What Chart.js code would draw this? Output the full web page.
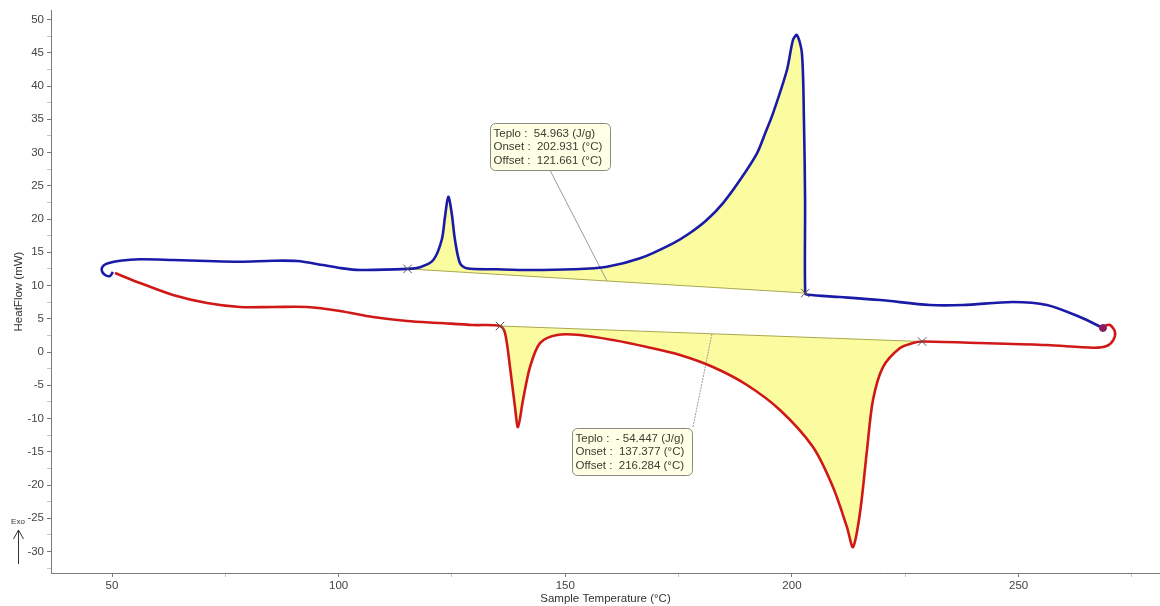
<!DOCTYPE html>
<html><head><meta charset="utf-8">
<script src="https://cdn.jsdelivr.net/npm/chart.js@4.4.1/dist/chart.umd.min.js"></script>
<style>html,body{margin:0;padding:0;background:#fff;overflow:hidden}#wrap{width:1160px;height:606px;position:relative;overflow:hidden}</style>
</head><body><div id="wrap"><canvas id="c" width="1167" height="606"></canvas></div>
<script>
// Blue curve (cooling), sample temperature (°C) and heat flow (mW)
const blueTemp = [50.2, 49.56, 48.46, 47.73, 48.01, 49.12, 51.76, 56.18, 63.46, 70.96, 78.24, 85.52, 90.81, 96.55, 100.3, 104.71, 115.2,
  117.95, 120.88, 122.73, 123.46, 124.19, 124.94, 125.67, 126.78, 128.25, 134.87, 142.21, 151.77, 159.2, 166.48, 173.76, 177.5, 181.2, 184.8, 188.54,
  192.29, 194.1, 195.82, 198.9, 200.23, 201.1, 202.2, 202.65, 202.9, 202.93, 203.5, 210.6, 219.42, 230.45, 237.73, 248.76, 256.26, 263.54, 268.62];
const blueHeat = [12.03, 11.43, 11.58, 12.26, 12.93, 13.34, 13.73, 13.94, 13.83, 13.68, 13.58, 13.73, 13.68, 13.08, 12.63, 12.33, 12.5,
  12.74, 13.83, 16.84, 20.35, 23.35, 20.86, 16.84, 13.34, 12.59, 12.44, 12.33, 12.44, 12.83, 14.09, 16.35, 17.9, 19.85, 22.4, 25.86,
  29.88, 32.9, 35.89, 42.41, 46.92, 47.67, 44.96, 34.89, 22.86, 8.87, 8.6, 8.27, 7.82, 7.07, 7.07, 7.52, 7.07, 5.26, 3.61];
// Red curve (heating)
const redTemp = [50.66, 56.18, 63.46, 70.96, 78.24, 85.52, 93.02, 100.3, 107.58, 115.08, 122.36, 129.64, 135.6,
  136.7, 137.8, 138.9, 139.57, 140.67, 142.21, 144.42, 148.17, 153.24, 160.52, 168.02, 175.3, 182.58, 190.08, 197.36, 204.64,
  209.05, 212.14, 213.47, 215.01, 216.56, 217.88, 220.09, 223.84, 226.71, 228.7, 241.48, 256.26, 266.41, 269.43, 270.89, 271.26, 270.16, 268.84];
const redHeat = [11.88, 10.38, 8.57, 7.37, 6.77, 6.77, 6.77, 6.17, 5.26, 4.66, 4.36, 4.06, 3.91,
  2.86, -2.26, -8.27, -11.28, -7.22, -2.26, 1.35, 2.56, 2.56, 1.8, 0.75, -0.45, -2.26, -4.96, -8.72, -14.29,
  -20.3, -26.32, -29.32, -24.21, -14.74, -7.22, -2.26, 0.6, 1.35, 1.58, 1.35, 1.05, 0.65, 0.9, 1.8, 3.05, 4.06, 3.91];
// Peak integration limits (baseline end markers)
const blueBaseTemp = [115.2, 202.93];
const blueBaseHeat = [12.5, 8.87];
const redBaseTemp = [135.6, 228.7];
const redBaseHeat = [3.91, 1.58];
// Leader lines from result boxes to baselines
const blueLeaderTemp = [146.6, 159.2];
const blueLeaderHeat = [27.37, 10.69];
const redLeaderTemp = [178.17, 182.36];
const redLeaderHeat = [-11.28, 2.74];
// Result boxes (anchor = top-left corner)
const boxAnchorTemp = [133.39, 151.48];
const boxAnchorHeat = [34.44, -11.43];
const boxLines = [
  ["Teplo :  54.963 (J/g)", "Onset :  202.931 (°C)", "Offset :  121.661 (°C)"],
  ["Teplo :  - 54.447 (J/g)", "Onset :  137.377 (°C)", "Offset :  216.284 (°C)"]
];
// Tick labels
const xTickLabels = [50, 100, 150, 200, 250];
const yTickLabels = [-30, -25, -20, -15, -10, -5, 0, 5, 10, 15, 20, 25, 30, 35, 40, 45, 50];

const pts = (xs, ys) => xs.map((x, i) => ({x: x, y: ys[i]}));
function slice(xs, ys, a, b) {
  const i0 = xs.indexOf(a), i1 = xs.indexOf(b);
  return pts(xs.slice(i0, i1 + 1), ys.slice(i0, i1 + 1));
}

const FONT = "'Liberation Sans', Arial, sans-serif";

const boxPlugin = {
  id: 'boxes',
  afterDatasetsDraw(chart) {
    const ctx = chart.ctx, xs = chart.scales.x, ys = chart.scales.y;
    ctx.save();
    for (let k = 0; k < boxLines.length; k++) {
      const px = Math.round(xs.getPixelForValue(boxAnchorTemp[k])) + 0.5;
      const py = Math.round(ys.getPixelForValue(boxAnchorHeat[k])) + 0.5;
      const w = 120, h = 47, r = 5;
      ctx.beginPath();
      ctx.roundRect(px, py, w, h, r);
      ctx.fillStyle = '#ffffe6';
      ctx.fill();
      ctx.strokeStyle = '#8a8a80';
      ctx.lineWidth = 1;
      ctx.stroke();
      ctx.fillStyle = '#3b3b30';
      ctx.font = '11.5px ' + FONT;
      ctx.textBaseline = 'middle';
      ctx.textAlign = 'left';
      boxLines[k].forEach((t, j) => ctx.fillText(t, px + 3, py + 10 + j * 13.6));
    }
    // Exo arrow
    ctx.strokeStyle = '#333';
    ctx.fillStyle = '#333';
    ctx.lineWidth = 1;
    ctx.font = '8px ' + FONT;
    ctx.textAlign = 'center';
    ctx.fillText('Exo', 18, 522);
    ctx.beginPath();
    ctx.moveTo(18.5, 564); ctx.lineTo(18.5, 530);
    ctx.moveTo(13.5, 539); ctx.lineTo(18.5, 530); ctx.lineTo(23.5, 539);
    ctx.stroke();
    ctx.restore();
  }
};

const lineBase = {showLine: true, pointRadius: 0, fill: false, tension: 0.3};

new Chart(document.getElementById('c'), {
  type: 'scatter',
  data: {
    datasets: [
      Object.assign({}, lineBase, {label: 'blue', data: pts(blueTemp, blueHeat), borderColor: '#1a1aa8', borderWidth: 2.6, order: 0}),
      Object.assign({}, lineBase, {label: 'red', data: pts(redTemp, redHeat), borderColor: '#d01818', borderWidth: 2.6, order: 0}),
      Object.assign({}, lineBase, {label: 'blueFill', data: slice(blueTemp, blueHeat, blueBaseTemp[0], blueBaseTemp[1]), borderWidth: 0, borderColor: 'rgba(0,0,0,0)', backgroundColor: '#fbfba0', fill: 'shape', order: 5}),
      Object.assign({}, lineBase, {label: 'redFill', data: slice(redTemp, redHeat, redBaseTemp[0], redBaseTemp[1]), borderWidth: 0, borderColor: 'rgba(0,0,0,0)', backgroundColor: '#fbfba0', fill: 'shape', order: 5}),
      Object.assign({}, lineBase, {label: 'blueBase', data: pts(blueBaseTemp, blueBaseHeat), borderColor: '#a8a850', borderWidth: 1, tension: 0, order: 3}),
      Object.assign({}, lineBase, {label: 'redBase', data: pts(redBaseTemp, redBaseHeat), borderColor: '#a8a850', borderWidth: 1, tension: 0, order: 3}),
      Object.assign({}, lineBase, {label: 'blueLeader', data: pts(blueLeaderTemp, blueLeaderHeat), borderColor: '#9a9a9a', borderWidth: 1, tension: 0, order: 2}),
      Object.assign({}, lineBase, {label: 'redLeader', data: pts(redLeaderTemp, redLeaderHeat), borderColor: '#9a9a9a', borderWidth: 1, borderDash: [2, 1], tension: 0, order: 2}),
      {label: 'blueMarks', data: pts(blueBaseTemp, blueBaseHeat), showLine: false, pointStyle: 'crossRot', pointRadius: 6, borderColor: '#555', borderWidth: 1, order: -1},
      {label: 'redMarks', data: pts(redBaseTemp, redBaseHeat), showLine: false, pointStyle: 'crossRot', pointRadius: 6, borderColor: '#555', borderWidth: 1, order: -1},
      {label: 'blueEnd', data: pts(blueTemp.slice(-1), blueHeat.slice(-1)), showLine: false, pointRadius: 3.5, backgroundColor: '#8a1d5e', borderColor: '#8a1d5e', borderWidth: 1, order: -1}
    ]
  },
  options: {
    responsive: false,
    animation: false,
    devicePixelRatio: 1,
    layout: {padding: {top: 10, right: 0, left: 0, bottom: 0}},
    plugins: {legend: {display: false}, tooltip: {enabled: false}},
    scales: {
      x: {
        type: 'linear', min: 36.54, max: 281.2,
        afterFit(s) { s.height = 33; s.paddingLeft = 0; s.paddingRight = 0; },
        border: {color: '#7a7a7a', width: 1},
        grid: {drawOnChartArea: false, drawTicks: true, tickLength: 4,
          tickColor: c => (c.tick && xTickLabels.includes(c.tick.value)) ? '#7a7a7a' : '#c4c4c4'},
        ticks: {stepSize: 25, includeBounds: false, autoSkip: false, maxRotation: 0, padding: 2,
          color: '#444', font: {family: FONT, size: 11.5},
          callback: v => xTickLabels.includes(v) ? String(v) : ''},
        title: {display: true, text: 'Sample Temperature (°C)', color: '#333', font: {family: FONT, size: 11.5}, padding: {top: 0, bottom: 0}}
      },
      y: {
        type: 'linear', min: -33.23, max: 51.43,
        afterFit(s) { s.width = 51; s.paddingTop = 0; s.paddingBottom = 0; },
        border: {color: '#7a7a7a', width: 1},
        grid: {drawOnChartArea: false, drawTicks: true, tickLength: 4,
          tickColor: c => (c.tick && yTickLabels.includes(c.tick.value)) ? '#7a7a7a' : '#c4c4c4'},
        ticks: {stepSize: 2.5, includeBounds: false, autoSkip: false, padding: 3,
          color: '#444', font: {family: FONT, size: 11.5},
          callback: v => yTickLabels.includes(v) ? String(v) : ''},
        title: {display: true, text: 'HeatFlow (mW)', color: '#333', font: {family: FONT, size: 11.5}, padding: {top: 12, bottom: 0}}
      }
    }
  },
  plugins: [boxPlugin]
});
</script></body></html>
